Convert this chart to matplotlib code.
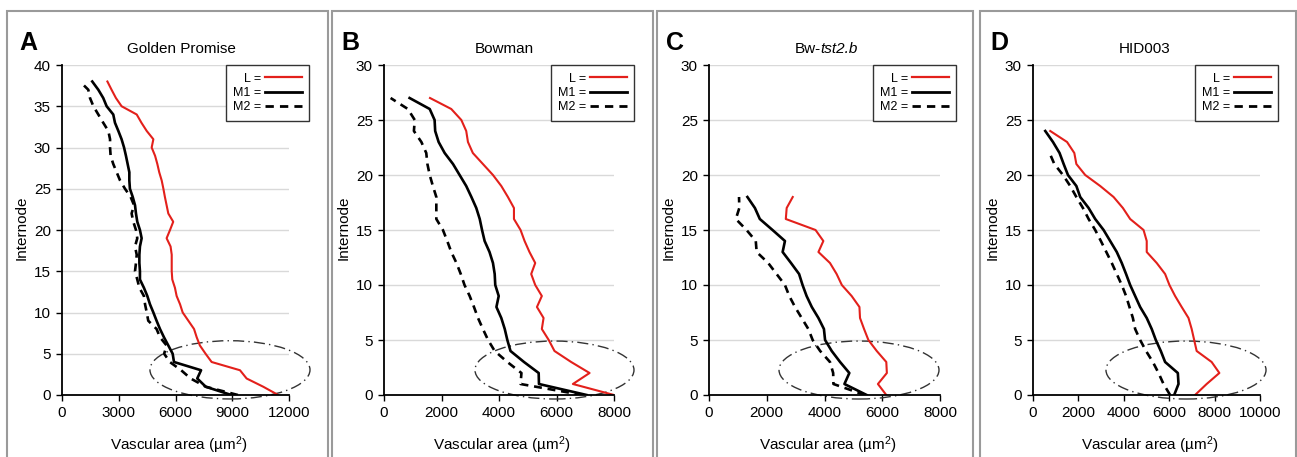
import matplotlib
matplotlib.use('Agg')
import matplotlib.pyplot as plt
from matplotlib.lines import Line2D
from matplotlib.patches import Ellipse, Rectangle

plt.rcParams['font.family'] = ['Liberation Sans', 'DejaVu Sans']
plt.rcParams['mathtext.fontset'] = 'custom'
plt.rcParams['mathtext.rm'] = 'Liberation Sans'
plt.rcParams['mathtext.it'] = 'Liberation Sans:italic'

W, H = 1297, 457

# vascular area per internode, listed from internode 0 upwards
a_L = [11430, 10640, 9760, 9410, 7910, 7590, 7290, 7120, 6980, 6680, 6380, 6240, 6060,
       5970, 5830, 5800, 5800, 5800, 5740, 5530, 5710, 5880, 5620, 5530, 5440, 5360,
       5270, 5140, 5040, 4920, 4740, 4830, 4480, 4200, 3950, 3150, 2850, 2620, 2400]
a_M1 = [8950, 7600, 7150, 7350, 5920, 5850, 5620, 5390, 5180, 5000, 4830, 4650, 4510,
        4330, 4120, 4120, 4090, 4090, 4120, 4210, 4120, 3980, 3910, 3860, 3740, 3590,
        3560, 3560, 3470, 3380, 3280, 3150, 2980, 2800, 2710, 2360, 2180, 1920, 1600]
a_M2 = [9300, 7600, 6800, 6300, 5700, 5400, 5530, 5180, 5000, 4560, 4480, 4390, 4330,
        4090, 3980, 3860, 3910, 3950, 3860, 3980, 3910, 3770, 3680, 3810, 3630, 3330,
        3070, 2890, 2710, 2570, 2540, 2540, 2450, 2180, 1920, 1660, 1480, 1390, 950]

b_L = [8000, 6570, 7150, 6510, 5930, 5730, 5490, 5550, 5320, 5490, 5260, 5120, 5260, 5060,
       4890, 4750, 4520, 4520, 4310, 4080, 3790, 3440, 3090, 2920, 2860, 2690, 2340, 1600]
b_M1 = [7050, 5390, 5380, 4870, 4400, 4290, 4200, 4080, 3910, 3990, 3870, 3850, 3790, 3670,
        3500, 3410, 3330, 3210, 3040, 2860, 2630, 2400, 2110, 1900, 1780, 1760, 1590, 890]
b_M2 = [6900, 4750, 4780, 4290, 3850, 3620, 3440, 3270, 3130, 2980, 2800, 2670, 2520, 2340,
        2200, 2050, 1820, 1820, 1820, 1700, 1590, 1510, 1470, 1300, 1040, 1070, 830, 230]

c_L = [6140, 5850, 6160, 6140, 5810, 5520, 5370, 5230, 5210, 4940, 4600, 4420, 4190, 3790,
       3960, 3690, 2660, 2690, 2900]
c_M1 = [5460, 4690, 4860, 4540, 4250, 4020, 3980, 3790, 3560, 3380, 3240, 3120, 2840, 2550,
        2630, 2200, 1760, 1590, 1330]
c_M2 = [5400, 4310, 4300, 4190, 3850, 3590, 3440, 3210, 2980, 2780, 2630, 2340, 2050, 1650,
        1620, 1300, 930, 1050, 1040]

d_L = [7140, 7650, 8210, 7870, 7210, 7100, 6990, 6850, 6550, 6260, 6010, 5820, 5450, 5010,
       5010, 4870, 4280, 3960, 3550, 2960, 2300, 1910, 1820, 1500, 760]
d_M1 = [6220, 6410, 6380, 5820, 5630, 5410, 5230, 5010, 4720, 4500, 4280, 4100, 3910, 3690,
        3400, 3110, 2740, 2450, 2080, 1910, 1540, 1350, 1170, 880, 540]
d_M2 = [6040, 5750, 5530, 5280, 4980, 4720, 4500, 4400, 4250, 4100, 3910, 3690, 3470, 3230,
        2990, 2740, 2450, 2200, 1910, 1640, 1320, 940, 730]

letters = ['A', 'B', 'C', 'D']
# title as (upright part, italic part)
titles = [('Golden Promise', ''), ('Bowman', ''), ('Bw-', 'tst2.b'), ('HID003', '')]
xmaxes = [12000, 8000, 8000, 10000]
xsteps = [3000, 2000, 2000, 2000]
ymaxes = [40, 30, 30, 30]
series = [(a_L, a_M1, a_M2), (b_L, b_M1, b_M2), (c_L, c_M1, c_M2), (d_L, d_M1, d_M2)]
# ellipse (centre x, centre y, width, height) in data units
ellipses = [(8880, 3.05, 8460, 7.06), (5930, 2.27, 5530, 5.27),
            (5195, 2.27, 5540, 5.27), (6740, 2.27, 7050, 5.27)]

# layout in pixels
ax_left = [62, 384, 709, 1033]
ax_right = [289, 614, 940, 1260]
ax_top, ax_bot = 65, 395
frames = [(7, 328), (332, 653), (657, 973), (980, 1296)]
letter_x = [19, 341, 666, 990]
title_x = [181, 504, 826, 1145]
leg_right = [309, 634, 956, 1278]

red = '#e3201b'
dash = (0, (3, 2.2))


def fx(p):
    return p / W


def fy(p):
    return 1 - p / H


fig = plt.figure(figsize=(W / 100, H / 100), dpi=100)
renderer = fig.canvas.get_renderer()

for i in range(4):
    # panel frame
    x0, x1 = frames[i]
    fig.patches.append(Rectangle((fx(x0), fy(H + 10)), fx(x1 - x0), (H + 10 - 11) / H,
                                 transform=fig.transFigure, fill=False,
                                 ec='#9a9a9a', lw=1.5, zorder=0))

    ax = fig.add_axes([fx(ax_left[i]), fy(ax_bot), fx(ax_right[i] - ax_left[i]),
                       (ax_bot - ax_top) / H])
    L, M1, M2 = series[i]
    ax.plot(L, range(len(L)), color=red, lw=1.5)
    ax.plot(M1, range(len(M1)), color='black', lw=1.9)
    ax.plot(M2, range(len(M2)), color='black', lw=1.9, ls=dash)

    cx, cy, ew, eh = ellipses[i]
    ax.add_patch(Ellipse((cx, cy), ew, eh, fill=False, ec='#333333', lw=1.0,
                         ls=(0, (8, 3, 1, 3)), clip_on=False))

    ax.set_xlim(0, xmaxes[i])
    ax.set_ylim(0, ymaxes[i])
    ax.set_xticks(range(0, xmaxes[i] + 1, xsteps[i]))
    ax.set_yticks(range(0, ymaxes[i] + 1, 5))
    ax.tick_params(direction='out', length=4, width=1, labelsize=11, pad=4)
    for s in ['top', 'right']:
        ax.spines[s].set_visible(False)
    for s in ['left', 'bottom']:
        ax.spines[s].set_linewidth(1.3)
    ax.yaxis.grid(True, color='#d9d9d9', lw=1)
    ax.set_axisbelow(True)

    handles = [Line2D([], [], color=red, lw=1.6),
               Line2D([], [], color='black', lw=2.0),
               Line2D([], [], color='black', lw=2.0, ls=dash)]
    leg = ax.legend(handles, ['L =', 'M1 =', 'M2 ='], loc='upper right',
                    bbox_to_anchor=(fx(leg_right[i]), fy(ax_top)),
                    bbox_transform=fig.transFigure, borderaxespad=0,
                    markerfirst=False, fontsize=9, handlelength=2.9,
                    handletextpad=0.3, borderpad=0.6, labelspacing=0.2,
                    fancybox=False, framealpha=1)
    leg.get_frame().set_edgecolor('#333333')
    leg.get_frame().set_linewidth(1.0)

    fig.text(fx(letter_x[i]), fy(50), letters[i], fontsize=18, fontweight='bold',
             ha='left', va='baseline')

    # title, with an italic part where needed
    plain, ital = titles[i]
    t1 = fig.text(0, fy(53), plain, fontsize=11, ha='left', va='baseline')
    w1 = t1.get_window_extent(renderer).width
    w2 = 0
    if ital:
        t2 = fig.text(0, fy(53), ital, fontsize=11, style='italic', ha='left', va='baseline')
        w2 = t2.get_window_extent(renderer).width
    start = title_x[i] - (w1 + w2) / 2
    t1.set_x(fx(start))
    if ital:
        t2.set_x(fx(start + w1))

    fig.text(fx(ax_left[i] - 40), fy(228), 'Internode', fontsize=11, rotation=90,
             ha='center', va='center')
    fig.text(fx((ax_left[i] + ax_right[i]) / 2 + 3), fy(450), r'Vascular area (µm$^{2}$)',
             fontsize=11, ha='center', va='baseline')

fig.savefig('out.png', dpi=100)
